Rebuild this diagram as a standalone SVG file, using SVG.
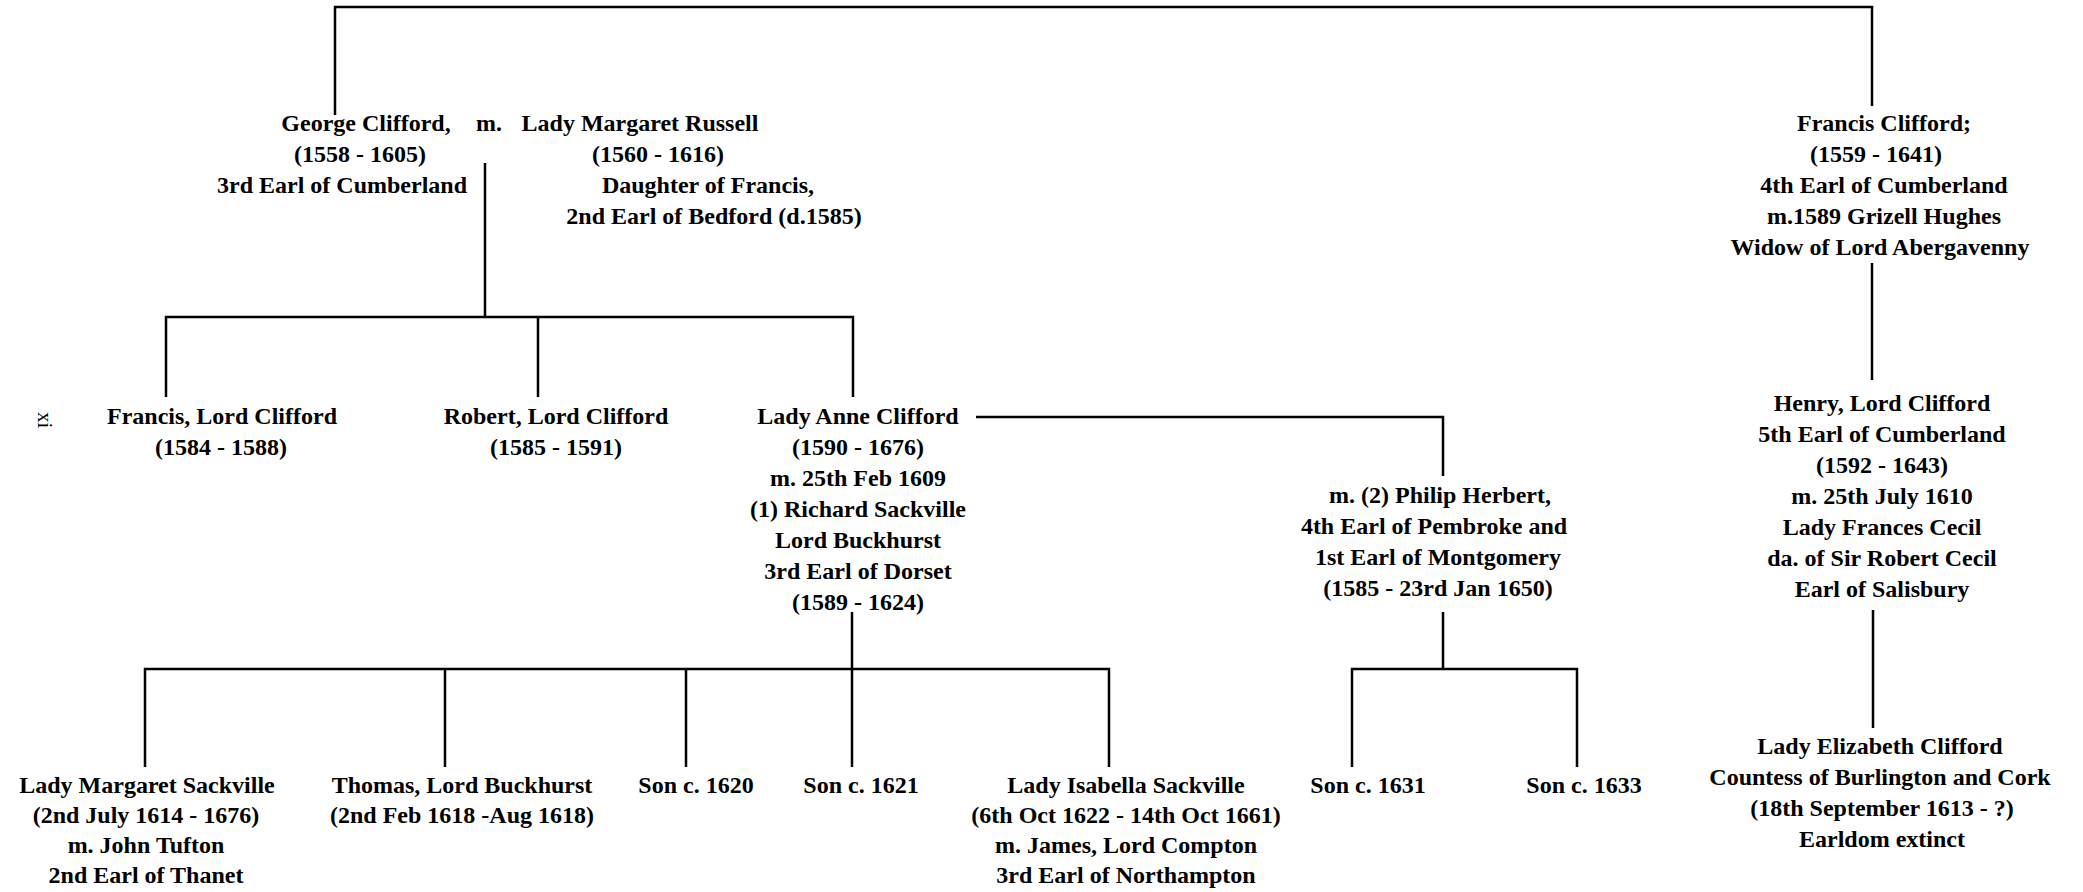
<svg xmlns="http://www.w3.org/2000/svg" width="2083" height="892" viewBox="0 0 2083 892">
<style>
.t{font-family:"Liberation Serif","Times New Roman",serif;font-size:24px;font-weight:bold;fill:#000;text-anchor:middle}
.pg{font-family:"Liberation Serif","Times New Roman",serif;font-size:21px;fill:#000}
.c{stroke:#000;stroke-width:2.5;fill:none}
</style>
<rect width="2083" height="892" fill="#fff"/>
<g id="connectors">
<path class="c" d="M335,115 V7 H1872 V106"/>
<path class="c" d="M485,163 V317"/>
<path class="c" d="M166,397 V317 H853 V397 M538,317 V397"/>
<path class="c" d="M976,417 H1443 V476"/>
<path class="c" d="M852,612 V767 M145,767 V669 H1109 V767 M445,669 V767 M686,669 V767"/>
<path class="c" d="M1443,612 V669 M1352,767 V669 H1577 V767"/>
<path class="c" d="M1872,263 V380 M1873,610 V728"/>
</g>
<g id="george">
<text class="t"><tspan x="366" y="131">George Clifford,</tspan><tspan x="360" y="162">(1558 - 1605)</tspan><tspan x="342" y="193">3rd Earl of Cumberland</tspan></text>
</g>
<g id="marriage"><text class="t" x="489" y="131">m.</text></g>
<g id="margaret-russell">
<text class="t"><tspan x="640" y="131">Lady Margaret Russell</tspan><tspan x="658" y="162">(1560 - 1616)</tspan><tspan x="708" y="193">Daughter of Francis,</tspan><tspan x="714" y="224">2nd Earl of Bedford (d.1585)</tspan></text>
</g>
<g id="francis-4th">
<text class="t"><tspan x="1884" y="131">Francis Clifford;</tspan><tspan x="1876" y="162">(1559 - 1641)</tspan><tspan x="1884" y="193">4th Earl of Cumberland</tspan><tspan x="1884" y="224">m.1589 Grizell Hughes</tspan><tspan x="1880" y="255">Widow of Lord Abergavenny</tspan></text>
</g>
<g id="francis-lord">
<text class="t"><tspan x="222" y="424">Francis, Lord Clifford</tspan><tspan x="221" y="455">(1584 - 1588)</tspan></text>
</g>
<g id="robert-lord">
<text class="t"><tspan x="556" y="424">Robert, Lord Clifford</tspan><tspan x="556" y="455">(1585 - 1591)</tspan></text>
</g>
<g id="anne">
<text class="t"><tspan x="858" y="424">Lady Anne Clifford</tspan><tspan x="858" y="455">(1590 - 1676)</tspan><tspan x="858" y="486">m. 25th Feb 1609</tspan><tspan x="858" y="517">(1) Richard Sackville</tspan><tspan x="858" y="548">Lord Buckhurst</tspan><tspan x="858" y="579">3rd Earl of Dorset</tspan><tspan x="858" y="610">(1589 - 1624)</tspan></text>
</g>
<g id="philip-herbert">
<text class="t"><tspan x="1440" y="503">m. (2) Philip Herbert,</tspan><tspan x="1434" y="534">4th Earl of Pembroke and</tspan><tspan x="1438" y="565">1st Earl of Montgomery</tspan><tspan x="1438" y="596">(1585 - 23rd Jan 1650)</tspan></text>
</g>
<g id="henry">
<text class="t"><tspan x="1882" y="411">Henry, Lord Clifford</tspan><tspan x="1882" y="442">5th Earl of Cumberland</tspan><tspan x="1882" y="473">(1592 - 1643)</tspan><tspan x="1882" y="504">m. 25th July 1610</tspan><tspan x="1882" y="535">Lady Frances Cecil</tspan><tspan x="1882" y="566">da. of Sir Robert Cecil</tspan><tspan x="1882" y="597">Earl of Salisbury</tspan></text>
</g>
<g id="margaret-sackville">
<text class="t"><tspan x="147" y="793">Lady Margaret Sackville</tspan><tspan x="146" y="823">(2nd July 1614 - 1676)</tspan><tspan x="146" y="853">m. John Tufton</tspan><tspan x="146" y="883">2nd Earl of Thanet</tspan></text>
</g>
<g id="thomas">
<text class="t"><tspan x="462" y="793">Thomas, Lord Buckhurst</tspan><tspan x="462" y="823">(2nd Feb 1618 -Aug 1618)</tspan></text>
</g>
<g id="son1620"><text class="t" x="696" y="793">Son c. 1620</text></g>
<g id="son1621"><text class="t" x="861" y="793">Son c. 1621</text></g>
<g id="isabella">
<text class="t"><tspan x="1126" y="793">Lady Isabella Sackville</tspan><tspan x="1126" y="823">(6th Oct 1622 - 14th Oct 1661)</tspan><tspan x="1126" y="853">m. James, Lord Compton</tspan><tspan x="1126" y="883">3rd Earl of Northampton</tspan></text>
</g>
<g id="son1631"><text class="t" x="1368" y="793">Son c. 1631</text></g>
<g id="son1633"><text class="t" x="1584" y="793">Son c. 1633</text></g>
<g id="elizabeth">
<text class="t"><tspan x="1880" y="754">Lady Elizabeth Clifford</tspan><tspan x="1880" y="785">Countess of Burlington and Cork</tspan><tspan x="1882" y="816">(18th September 1613 - ?)</tspan><tspan x="1882" y="847">Earldom extinct</tspan></text>
</g>
<g id="page-number"><text class="pg" transform="translate(38,412) rotate(90)">xi</text></g>
</svg>
